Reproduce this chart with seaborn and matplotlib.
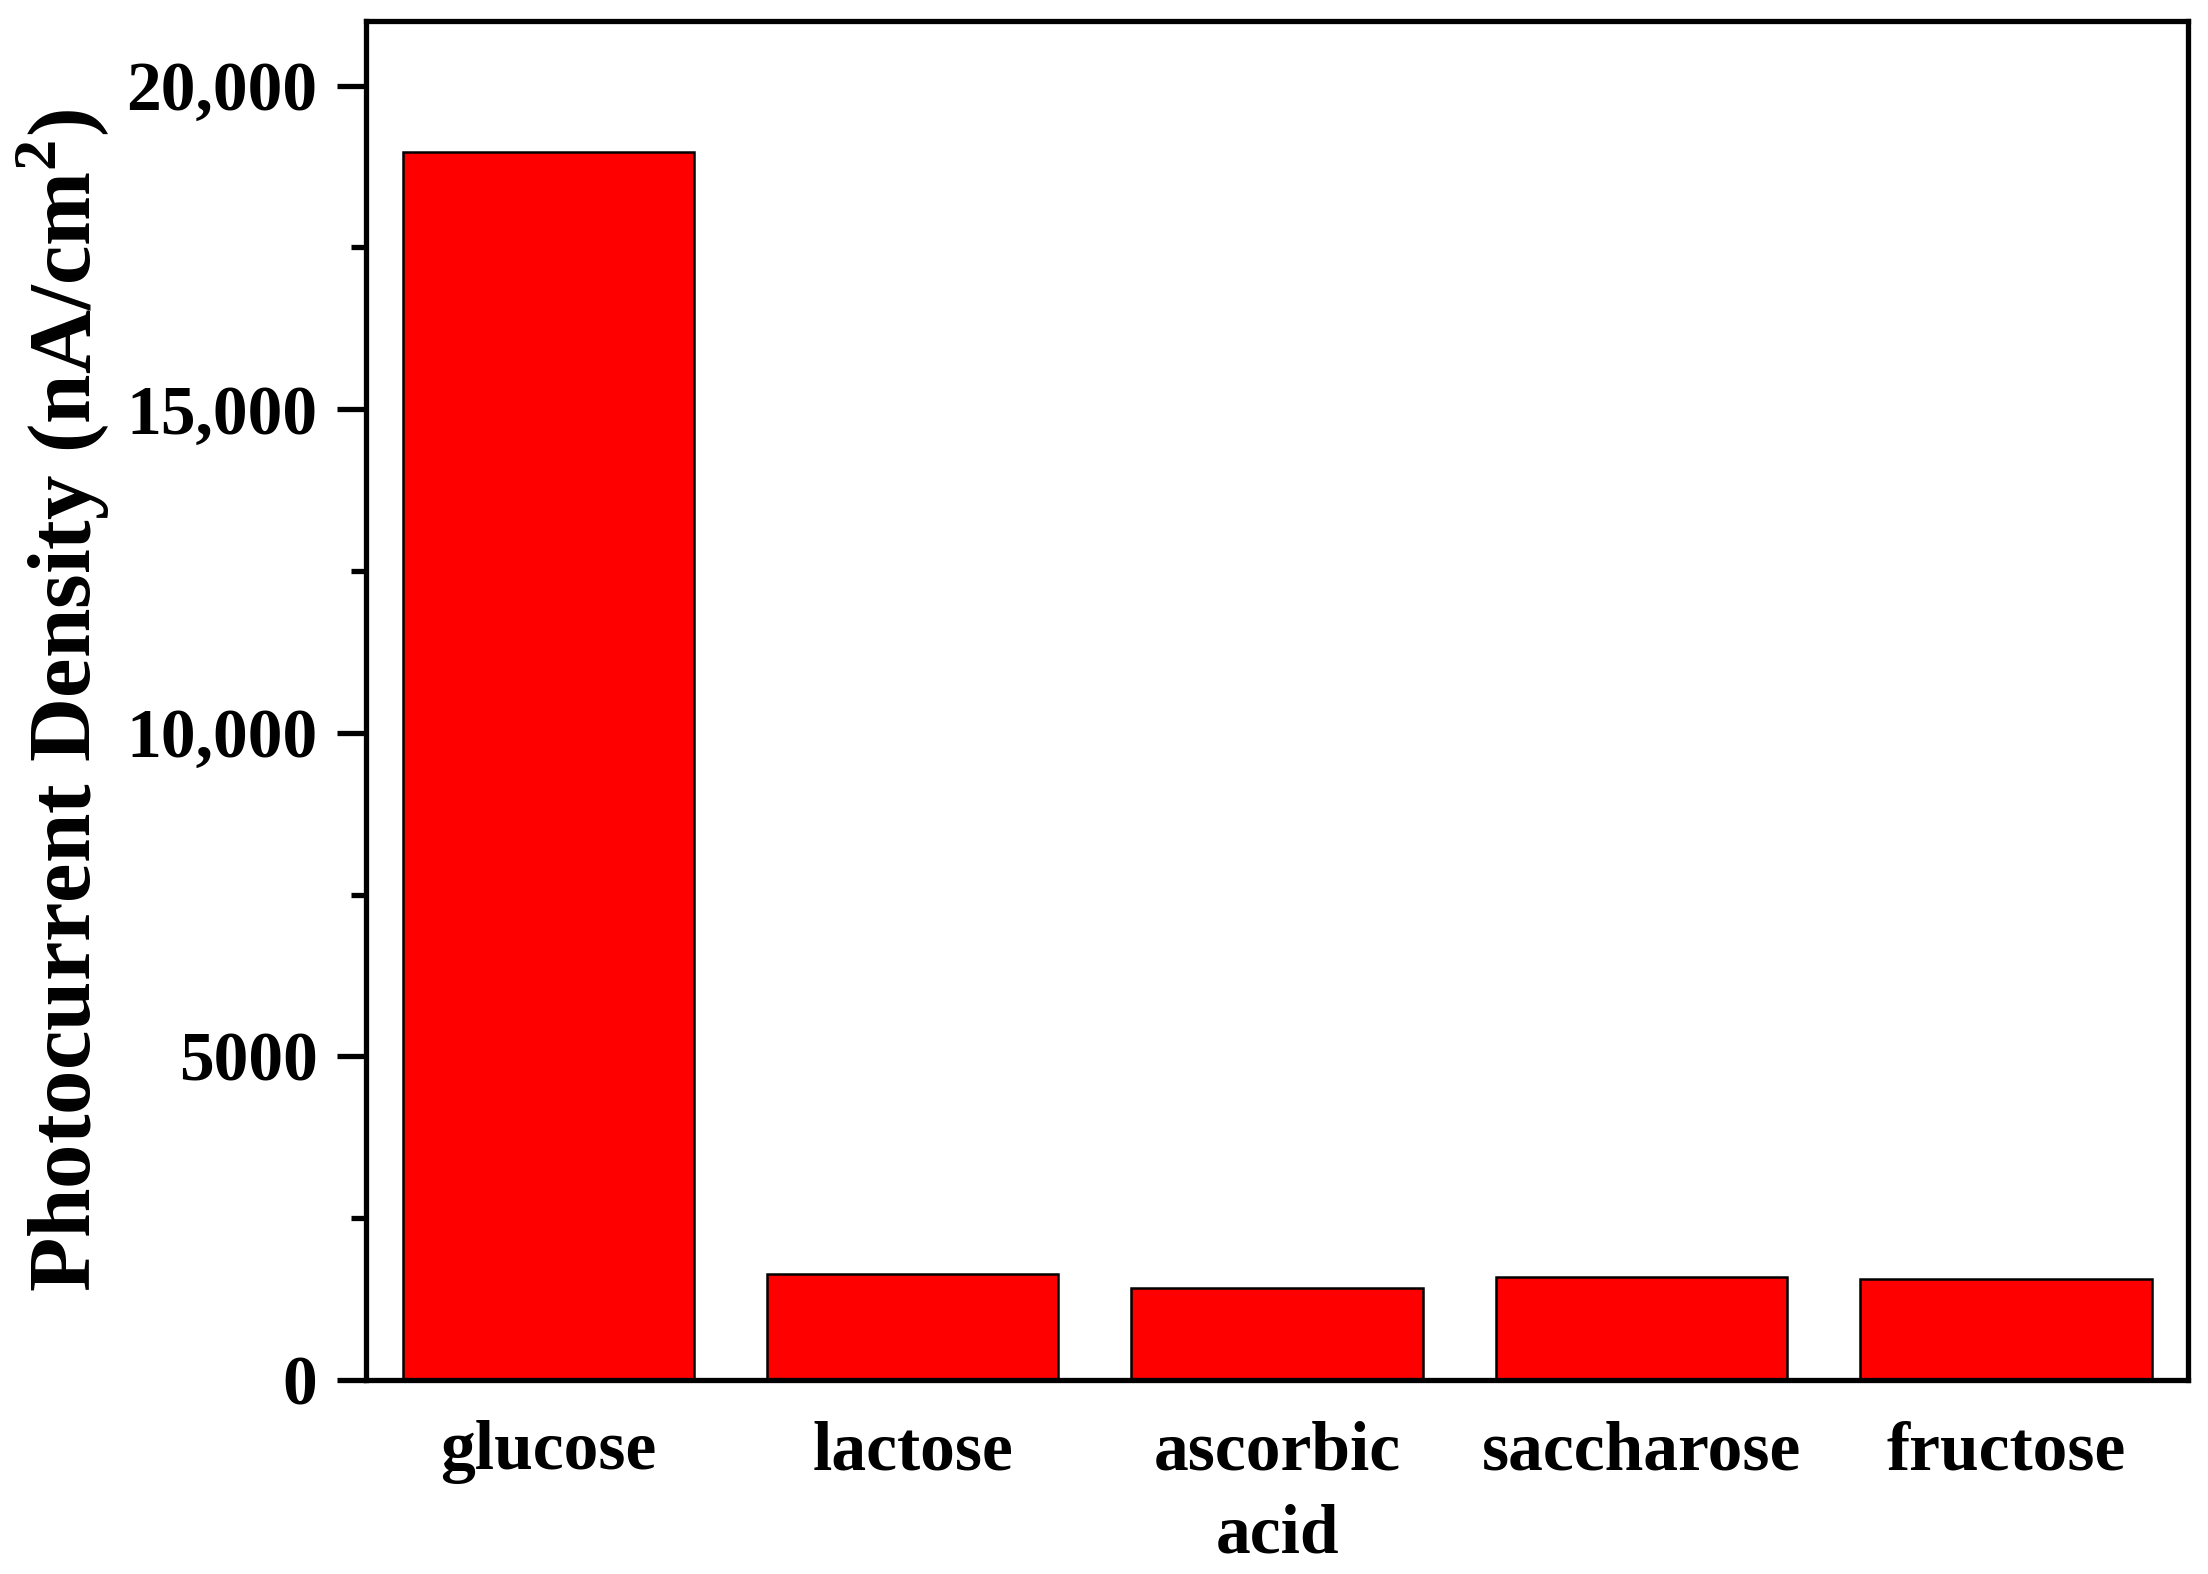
import matplotlib
matplotlib.use("Agg")
import matplotlib.pyplot as plt
import seaborn as sns
from matplotlib.ticker import FixedLocator, MultipleLocator

# values
categories = ["glucose", "lactose", "ascorbic\nacid", "saccharose", "fructose"]
photocurrent = [18970, 1630, 1420, 1585, 1565]
ytick_values = [0, 5000, 10000, 15000, 20000]
ytick_labels = ["0", "5000", "10,000", "15,000", "20,000"]

sns.set_style("ticks")
plt.rcParams["font.family"] = ["Liberation Serif", "DejaVu Serif"]
plt.rcParams["font.weight"] = "bold"
plt.rcParams["mathtext.fontset"] = "custom"
plt.rcParams["mathtext.bf"] = "Liberation Serif:bold"
plt.rcParams["mathtext.rm"] = "Liberation Serif:bold"
for key in ["text.color", "axes.labelcolor", "axes.edgecolor", "xtick.color", "ytick.color"]:
    plt.rcParams[key] = "black"

fig = plt.figure(figsize=(22.08, 15.74), dpi=100)
ax = fig.add_axes([0.1658, 0.1233, 0.8252, 0.8634])

sns.barplot(x=categories, y=photocurrent, color="#ff0000", saturation=1,
            edgecolor="black", linewidth=1.8, width=0.8, ax=ax)

ax.set_xlim(-0.5, 4.5)
ax.set_ylim(0, 21000)
ax.yaxis.set_major_locator(FixedLocator(ytick_values))
ax.set_yticklabels(ytick_labels)
ax.yaxis.set_minor_locator(MultipleLocator(2500))

for side in ["left", "right", "top", "bottom"]:
    ax.spines[side].set_visible(True)
    ax.spines[side].set_linewidth(3.8)
    ax.spines[side].set_color("black")

ax.tick_params(axis="y", which="major", length=21, width=3.8, pad=14,
               labelsize=50, direction="out", right=False)
ax.tick_params(axis="y", which="minor", length=11, width=3.8, direction="out")
ax.tick_params(axis="x", which="both", length=0, pad=29, labelsize=50)
for lab in ax.get_xticklabels():
    lab.set_linespacing(1.4)
    lab.set_fontweight("bold")
for lab in ax.get_yticklabels():
    lab.set_fontweight("bold")

ax.set_xlabel("")
ax.set_ylabel(r"Photocurrent Density (nA/cm$^{\mathbf{2}}$)", fontsize=64,
              fontweight="bold", labelpad=10)

fig.savefig("out.png", dpi=100, facecolor="white")
